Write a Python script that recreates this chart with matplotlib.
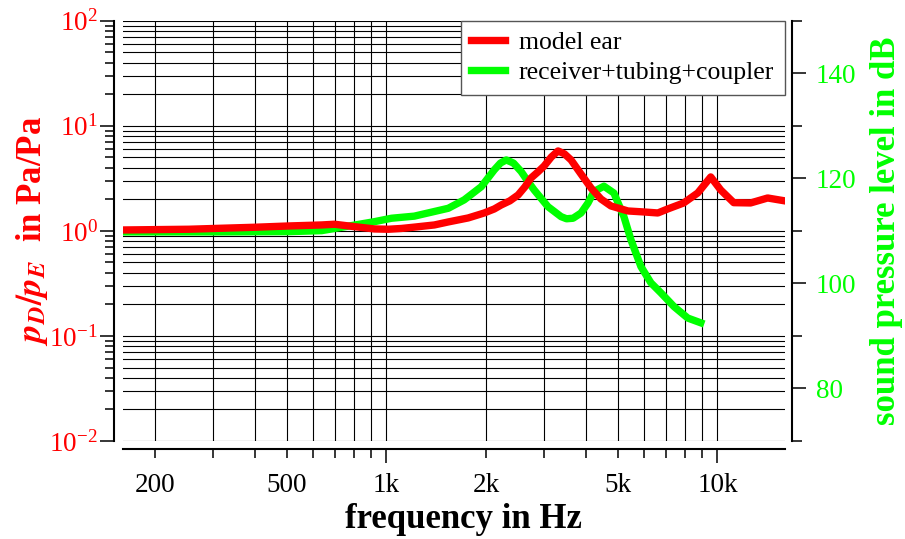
import numpy as np
import matplotlib
matplotlib.use("Agg")
import matplotlib.pyplot as plt
from matplotlib.ticker import (FixedLocator, FixedFormatter, LogLocator,
                               NullFormatter, MultipleLocator, StrMethodFormatter)

RED = "#ff0000"
GREEN = "#00ff00"

# model ear: p_D / p_E in Pa/Pa
ear_freq = [162, 253, 318, 400, 506, 637, 697, 801, 920, 1014, 1110, 1214, 1396, 1538,
            1766, 1975, 2117, 2222, 2360, 2500, 2620, 2735, 2870, 2995, 3150, 3300, 3450,
            3612, 3872, 4150, 4447, 4766, 5366, 5997, 6606, 7079, 7907, 8722, 9545,
            10230, 11200, 12590, 14180, 15860]
ear_ratio = [1.02, 1.036, 1.059, 1.082, 1.113, 1.138, 1.156, 1.096, 1.043, 1.036, 1.054,
             1.085, 1.138, 1.216, 1.327, 1.48, 1.615, 1.763, 1.93, 2.197, 2.62, 3.187,
             3.64, 4.14, 5.05, 5.76, 5.4, 4.73, 3.47, 2.56, 2.01, 1.726, 1.546, 1.513,
             1.48, 1.616, 1.843, 2.295, 3.26, 2.449, 1.855, 1.843, 2.055, 1.937]

# receiver + tubing + coupler: sound pressure level in dB
rtc_freq = [162, 318, 506, 637, 801, 920, 1036, 1214, 1538, 1718, 1934, 2117, 2210,
            2301, 2420, 2552, 2670, 2793, 3077, 3371, 3500, 3663, 3872, 4064, 4238,
            4540, 4866, 5218, 5479, 5873, 6296, 6749, 7388, 8136, 8905]
rtc_spl = [109.8, 109.8, 109.85, 110.04, 111.1, 111.75, 112.4, 112.8, 114.3, 115.9,
           118.4, 121.6, 122.9, 123.5, 122.9, 121.3, 119.5, 117.8, 114.6, 112.7, 112.3,
           112.4, 113.4, 115.3, 117.5, 118.5, 117.2, 112.7, 108.3, 103.2, 100.1, 98.2,
           95.6, 93.4, 92.5]

xtick_major = [1000, 10000]
xtick_major_labels = ["1k", "10k"]
xtick_minor = [200, 300, 400, 500, 600, 700, 800, 900,
               2000, 3000, 4000, 5000, 6000, 7000, 8000, 9000]
xtick_minor_labels = ["200", "", "", "500", "", "", "", "",
                      "2k", "", "", "5k", "", "", "", ""]
spl_ticks = [80, 100, 120, 140]


def to_db(pa):
    return 110 + 20 * np.log10(pa)


def from_db(db):
    return 10 ** ((np.asarray(db) - 110) / 20)


plt.rcParams.update({"font.family": ["Liberation Serif", "DejaVu Serif"],
                     "mathtext.fontset": "stix"})

fig = plt.figure(figsize=(9.05, 5.39), dpi=100)
ax = fig.add_axes([0.1359, 0.1818, 0.7315, 0.7798])
ax.set_xscale("log")
ax.set_yscale("log")
ax.set_xlim(160, 16000)
ax.set_ylim(1e-2, 1e2)

l_rtc, = ax.plot(rtc_freq, from_db(rtc_spl), color=GREEN, lw=5.3,
                 label="receiver+tubing+coupler", zorder=3)
l_ear, = ax.plot(ear_freq, ear_ratio, color=RED, lw=5.3, label="model ear", zorder=4)

# axes decoration
for s in ("top", "right"):
    ax.spines[s].set_visible(False)
ax.spines["left"].set_position(("outward", 6.5))
ax.spines["bottom"].set_position(("outward", 5.8))
ax.spines["left"].set_linewidth(1.5)
ax.spines["bottom"].set_linewidth(1.5)

ax.xaxis.set_major_locator(FixedLocator(xtick_major))
ax.xaxis.set_major_formatter(FixedFormatter(xtick_major_labels))
ax.xaxis.set_minor_locator(FixedLocator(xtick_minor))
ax.xaxis.set_minor_formatter(FixedFormatter(xtick_minor_labels))
ax.yaxis.set_major_locator(LogLocator(base=10))
ax.yaxis.set_minor_locator(LogLocator(base=10, subs=range(2, 10), numticks=20))
ax.yaxis.set_minor_formatter(NullFormatter())

ax.tick_params(axis="x", which="major", direction="out", length=10, width=1.1,
               labelsize=19.5, pad=7.5)
ax.tick_params(axis="x", which="minor", direction="out", length=6.5, width=1.1,
               labelsize=19.5, pad=11)
ax.tick_params(axis="y", which="major", direction="out", length=10, width=1.1,
               labelsize=19.5, labelcolor=RED, pad=1.5)
ax.tick_params(axis="y", which="minor", direction="out", length=6.5, width=1.1)

ax.grid(True, which="both", color="black", lw=0.8)

ax.set_xlabel("frequency in Hz", fontsize=25, fontweight="bold")
ax.xaxis.set_label_coords(0.514, -0.147)
ax.set_ylabel(r"$\mathbfit{p}_{\mathbfit{D}}\mathbf{/}\mathbfit{p}_{\mathbfit{E}}$  in Pa/Pa",
              fontsize=25, fontweight="bold", color=RED)
ax.yaxis.set_label_coords(-0.11, 0.5)

# right axis: sound pressure level
sec = ax.secondary_yaxis(1 + 7 / 662.0, functions=(to_db, from_db))
sec.yaxis.set_major_locator(FixedLocator(spl_ticks))
sec.yaxis.set_major_formatter(StrMethodFormatter("{x:.0f}"))
sec.yaxis.set_minor_locator(MultipleLocator(10))
sec.yaxis.set_minor_formatter(NullFormatter())
sec.spines["right"].set_linewidth(1.5)
sec.tick_params(which="major", direction="out", length=10, width=1.1,
                labelsize=19.5, labelcolor=GREEN, pad=7)
sec.tick_params(which="minor", direction="out", length=7, width=1.1)
sec.set_ylabel("sound pressure level in dB", fontsize=25, fontweight="bold",
               color=GREEN, labelpad=10)

leg = ax.legend(handles=[l_ear, l_rtc], loc="upper right", bbox_to_anchor=(1, 1),
                borderaxespad=0, fontsize=18.5, fancybox=False, framealpha=1,
                edgecolor="#555555", handlelength=1.3, handletextpad=0.55,
                labelspacing=0.25, borderpad=0.42)
leg.get_frame().set_linewidth(1.0)

fig.savefig("out.png", dpi=100)
